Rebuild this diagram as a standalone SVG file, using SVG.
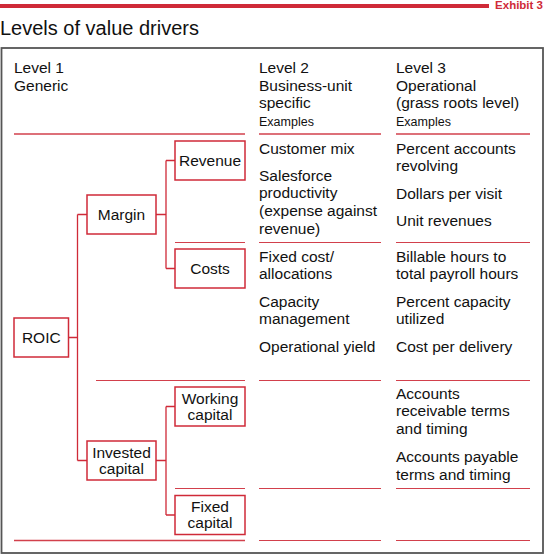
<svg xmlns="http://www.w3.org/2000/svg" width="545" height="558" viewBox="0 0 545 558">
<style>
text{font-family:"Liberation Sans",Arial,Helvetica,sans-serif;fill:#111}
.t{font-size:15.5px}
.ex{font-size:12.5px}
.c{text-anchor:middle}
.box{fill:#fff;stroke:#cf2a38;stroke-width:1.5}
.ln{stroke:#d2404c;stroke-width:1;fill:none}
.cn{stroke:#cf2a38;stroke-width:1.3;fill:none}
</style>
<rect x="0" y="0" width="545" height="558" fill="#fff"/>
<rect x="0" y="4" width="489" height="4" fill="#cf2a38"/>
<text x="543" y="9" style="font-size:11.5px;font-weight:bold;fill:#cf2a38" text-anchor="end">Exhibit 3</text>
<text x="0" y="35" style="font-size:20px">Levels of value drivers</text>
<rect x="1.5" y="48" width="541.5" height="505" fill="none" stroke="#555" stroke-width="1.8"/>
<g id="headers">
<text class="t" x="14" y="73">Level 1</text>
<text class="t" x="14" y="91">Generic</text>
<text class="t" x="259" y="73">Level 2</text>
<text class="t" x="259" y="91">Business-unit</text>
<text class="t" x="259" y="108">specific</text>
<text class="ex" x="259" y="126">Examples</text>
<text class="t" x="396" y="73">Level 3</text>
<text class="t" x="396" y="91">Operational</text>
<text class="t" x="396" y="108">(grass roots level)</text>
<text class="ex" x="396" y="126">Examples</text>
</g>
<g id="rules">
<line class="ln" x1="14" y1="134" x2="245" y2="134" style="stroke-width:1.3"/>
<line class="ln" x1="259" y1="134" x2="381" y2="134" style="stroke-width:1.3"/>
<line class="ln" x1="396" y1="134" x2="530" y2="134" style="stroke-width:1.3"/>
<line class="ln" x1="175" y1="242.5" x2="245" y2="242.5"/>
<line class="ln" x1="259" y1="242.5" x2="381" y2="242.5"/>
<line class="ln" x1="396" y1="242.5" x2="530" y2="242.5"/>
<line class="ln" x1="96" y1="380.5" x2="245" y2="380.5"/>
<line class="ln" x1="259" y1="380.5" x2="381" y2="380.5"/>
<line class="ln" x1="396" y1="380.5" x2="530" y2="380.5"/>
<line class="ln" x1="175" y1="488.5" x2="245" y2="488.5"/>
<line class="ln" x1="259" y1="488.5" x2="381" y2="488.5"/>
<line class="ln" x1="396" y1="488.5" x2="530" y2="488.5"/>
<line class="ln" x1="14" y1="540.5" x2="245" y2="540.5" style="stroke-width:1.6"/>
<line class="ln" x1="259" y1="540.5" x2="381" y2="540.5"/>
<line class="ln" x1="396" y1="540.5" x2="530" y2="540.5"/>
</g>
<g id="connectors">
<path class="cn" d="M68.5,337.5 H77.5 M77.5,214.5 V460.5 M77.5,214.5 H87 M77.5,460.5 H87"/>
<path class="cn" d="M156,214.5 H166 M166,160.5 V268.5 M166,160.5 H175 M166,268.5 H175"/>
<path class="cn" d="M156,460.5 H166 M166,406.5 V515 M166,406.5 H175 M166,515 H175"/>
</g>
<g id="roic">
<rect class="box" x="14" y="318" width="54.5" height="39"/>
<text class="t c" x="41.3" y="343">ROIC</text>
</g>
<g id="margin">
<rect class="box" x="87" y="195" width="69" height="39"/>
<text class="t c" x="121.5" y="220">Margin</text>
</g>
<g id="revenue">
<rect class="box" x="175" y="141" width="70" height="39"/>
<text class="t c" x="210" y="166">Revenue</text>
</g>
<g id="costs">
<rect class="box" x="175" y="249" width="70" height="39"/>
<text class="t c" x="210" y="274">Costs</text>
</g>
<g id="invested">
<rect class="box" x="87" y="441" width="69" height="39"/>
<text class="t c" x="121.5" y="457.5">Invested</text>
<text class="t c" x="121.5" y="474">capital</text>
</g>
<g id="working">
<rect class="box" x="175" y="387" width="70" height="39"/>
<text class="t c" x="210" y="403.5">Working</text>
<text class="t c" x="210" y="420">capital</text>
</g>
<g id="fixed">
<rect class="box" x="175" y="495.5" width="70" height="39"/>
<text class="t c" x="210" y="512">Fixed</text>
<text class="t c" x="210" y="528">capital</text>
</g>
<g id="level2">
<text class="t" x="259" y="153.5">Customer mix</text>
<text class="t" x="259" y="180.5">Salesforce</text>
<text class="t" x="259" y="198">productivity</text>
<text class="t" x="259" y="216">(expense against</text>
<text class="t" x="259" y="233.5">revenue)</text>
<text class="t" x="259" y="261.5">Fixed cost/</text>
<text class="t" x="259" y="279">allocations</text>
<text class="t" x="259" y="306.5">Capacity</text>
<text class="t" x="259" y="324">management</text>
<text class="t" x="259" y="351.5">Operational yield</text>
</g>
<g id="level3">
<text class="t" x="396" y="153.5">Percent accounts</text>
<text class="t" x="396" y="171">revolving</text>
<text class="t" x="396" y="198.5">Dollars per visit</text>
<text class="t" x="396" y="225.5">Unit revenues</text>
<text class="t" x="396" y="261.5">Billable hours to</text>
<text class="t" x="396" y="279">total payroll hours</text>
<text class="t" x="396" y="306.5">Percent capacity</text>
<text class="t" x="396" y="324">utilized</text>
<text class="t" x="396" y="351.5">Cost per delivery</text>
<text class="t" x="396" y="398.5">Accounts</text>
<text class="t" x="396" y="416">receivable terms</text>
<text class="t" x="396" y="434">and timing</text>
<text class="t" x="396" y="461.5">Accounts payable</text>
<text class="t" x="396" y="479.5">terms and timing</text>
</g>
</svg>
